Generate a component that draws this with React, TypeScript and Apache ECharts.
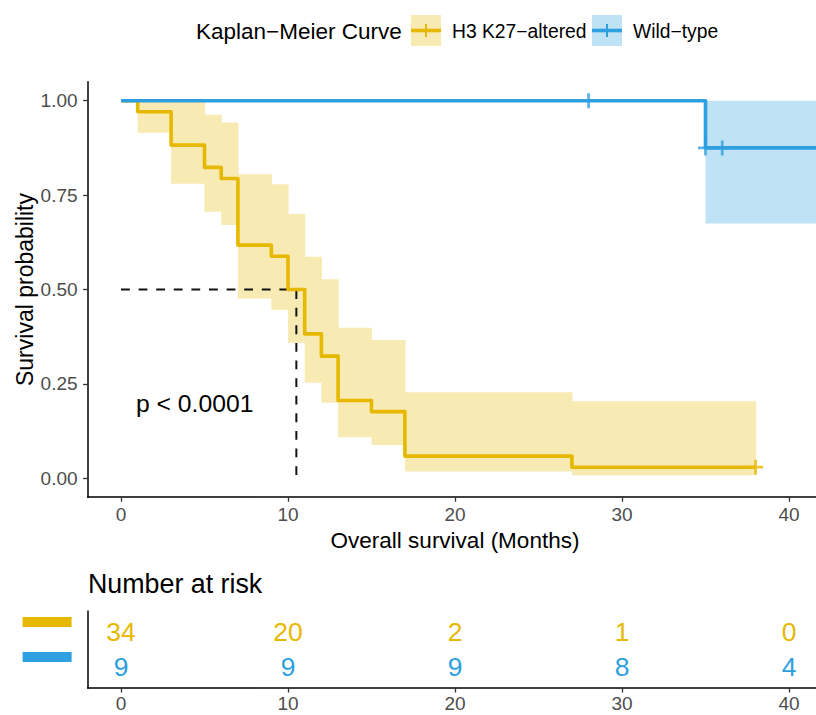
import React, { useEffect, useRef } from "react";
import * as echarts from "echarts";

const FONT = '"Liberation Sans", Arial, Helvetica, sans-serif';
const YELLOW = "#E7B800";
const BLUE = "#2E9FDF";
const YELLOW_FILL = "#F8EAB3";
const BLUE_FILL = "#C0E2F5";

// ---- H3 K27-altered (Kaplan-Meier estimate) ----
const mutTimes = [0, 1, 3, 5, 6, 7, 9, 10, 11, 12, 13, 15, 17, 27, 38];
const mutSurv = [1, 0.9706, 0.8824, 0.8235, 0.7941, 0.6176, 0.5882, 0.5, 0.3824, 0.3235, 0.2059, 0.1765, 0.0588, 0.0294, 0.0294];
// confidence band per interval [mutTimes[i], mutTimes[i+1])
const mutLower = [1, 0.915, 0.78, 0.706, 0.671, 0.476, 0.446, 0.359, 0.253, 0.2, 0.109, 0.088, 0.018, 0.008];
const mutUpper = [1, 1, 1, 0.963, 0.942, 0.805, 0.779, 0.7, 0.587, 0.527, 0.399, 0.366, 0.228, 0.204];
const mutCensorTimes = [38];
const mutCensorSurv = [0.0294];

// ---- Wild-type ----
const wtTimes = [0, 35, 42];
const wtSurv = [1, 0.875, 0.875];
const wtLower = [1, 0.675];
const wtUpper = [1, 1];
const wtCensorTimes = [28, 35, 36];
const wtCensorSurv = [1, 0.875, 0.875];

// ---- median & p value ----
const medianSurvival = 10.5;
const pValueText = "p < 0.0001";

// ---- number at risk ----
const riskTimes = [0, 10, 20, 30, 40];
const mutRisk = [34, 20, 2, 1, 0];
const wtRisk = [9, 9, 9, 8, 4];

const xTicks = [0, 10, 20, 30, 40];
const yTicks = [0, 0.25, 0.5, 0.75, 1];

const XMIN = -2;
const XMAX = 42;

const PLUS = "path://M0,4.1H4.1V0H5.9V4.1H10V5.9H5.9V10H4.1V5.9H0Z";

function bandData(times: number[], lo: number[], hi: number[]) {
  const out: number[][] = [];
  for (let i = 0; i < lo.length; i++) {
    if (hi[i] - lo[i] > 0.0001) out.push([times[i], times[i + 1], lo[i], hi[i]]);
  }
  return out;
}

function bandSeries(data: number[][], fill: string, z: number) {
  return {
    type: "custom",
    xAxisIndex: 0,
    yAxisIndex: 0,
    clip: true,
    z,
    silent: true,
    encode: { x: [0, 1], y: [2, 3] },
    data,
    renderItem: (_p: any, api: any) => {
      const a = api.coord([api.value(0), api.value(3)]);
      const b = api.coord([api.value(1), api.value(2)]);
      return {
        type: "rect",
        shape: { x: a[0], y: a[1], width: b[0] - a[0] + 0.6, height: b[1] - a[1] },
        style: { fill },
      };
    },
  };
}

function riskSeries(row: number, counts: number[], color: string) {
  return {
    type: "custom",
    xAxisIndex: 1,
    yAxisIndex: 1,
    z: 5,
    data: riskTimes.map((t, i) => [t, row, counts[i]]),
    renderItem: (_p: any, api: any) => {
      const p = api.coord([api.value(0), api.value(1)]);
      return {
        type: "text",
        x: p[0],
        y: p[1],
        style: {
          text: String(api.value(2)),
          fill: color,
          fontSize: 26.5,
          fontFamily: FONT,
          align: "center",
          verticalAlign: "middle",
        },
      };
    },
  };
}

const axisLineStyle = { color: "#000", width: 1.5 };
const tickStyle = { color: "#333", width: 1.3 };
const tickLabel = { color: "#4D4D4D", fontSize: 19, fontFamily: FONT };

export default function App() {
  const ref = useRef<HTMLDivElement>(null);
  useEffect(() => {
    const chart = echarts.init(ref.current!, null, { renderer: "svg" });
    const option: any = {
      animation: false,
      backgroundColor: "#fff",
      textStyle: { fontFamily: FONT },
      title: {
        text: "Number at risk",
        left: 88,
        top: 570,
        padding: 0,
        textStyle: { fontSize: 26.8, fontWeight: "normal", color: "#000", fontFamily: FONT },
      },
      grid: [
        { left: 87.6, right: -6.4, top: 81.8, bottom: 217.8, containLabel: false, outerBoundsMode: "none" },
        { left: 87.6, right: -6.4, top: 611, bottom: 27, containLabel: false, outerBoundsMode: "none" },
      ],
      xAxis: [
        {
          type: "value",
          gridIndex: 0,
          min: XMIN,
          max: XMAX,
          axisLine: { show: true, onZero: false, lineStyle: axisLineStyle },
          axisTick: { show: true, length: 4.5, customValues: xTicks, lineStyle: tickStyle },
          axisLabel: { ...tickLabel, customValues: xTicks, margin: 8 },
          splitLine: { show: false },
          name: "Overall survival (Months)",
          nameLocation: "middle",
          nameGap: 32,
          nameMoveOverlap: false,
          nameTextStyle: { fontSize: 22.5, color: "#000", fontFamily: FONT },
        },
        {
          type: "value",
          gridIndex: 1,
          min: XMIN,
          max: XMAX,
          axisLine: { show: true, onZero: false, lineStyle: axisLineStyle },
          axisTick: { show: true, length: 4.5, customValues: xTicks, lineStyle: tickStyle },
          axisLabel: { ...tickLabel, customValues: xTicks, margin: 6 },
          splitLine: { show: false },
        },
      ],
      yAxis: [
        {
          type: "value",
          gridIndex: 0,
          min: -0.05,
          max: 1.05,
          axisLine: { show: true, onZero: false, lineStyle: axisLineStyle },
          axisTick: { show: true, length: 4.5, customValues: yTicks, lineStyle: tickStyle },
          axisLabel: {
            ...tickLabel,
            customValues: yTicks,
            margin: 10,
            formatter: (v: number) => v.toFixed(2),
          },
          splitLine: { show: false },
          name: "Survival probability",
          nameLocation: "middle",
          nameRotate: 90,
          nameGap: 51,
          nameMoveOverlap: false,
          nameTextStyle: { fontSize: 23, color: "#000", fontFamily: FONT },
        },
        {
          type: "value",
          gridIndex: 1,
          min: 0.4,
          max: 2.6,
          axisLine: { show: true, onZero: false, lineStyle: axisLineStyle },
          axisTick: { show: false },
          axisLabel: { show: false },
          splitLine: { show: false },
        },
      ],
      series: [
        bandSeries(bandData(mutTimes, mutLower, mutUpper), YELLOW_FILL, 1),
        bandSeries(bandData(wtTimes, wtLower, wtUpper), BLUE_FILL, 1),
        {
          type: "line",
          name: "median",
          xAxisIndex: 0,
          yAxisIndex: 0,
          z: 3,
          symbol: "none",
          silent: true,
          data: [
            [0, 0.5],
            [medianSurvival, 0.5],
            [medianSurvival, 0],
          ],
          lineStyle: { color: "#111", width: 2, type: [8.8, 8.8] },
        },
        {
          type: "line",
          name: "H3 K27-altered",
          xAxisIndex: 0,
          yAxisIndex: 0,
          z: 4,
          step: "end",
          symbol: "none",
          data: mutTimes.map((t, i) => [t, mutSurv[i]]),
          lineStyle: { color: YELLOW, width: 3.6, join: "round" },
        },
        {
          type: "line",
          name: "Wild-type",
          xAxisIndex: 0,
          yAxisIndex: 0,
          z: 5,
          step: "end",
          symbol: "none",
          data: wtTimes.map((t, i) => [t, wtSurv[i]]),
          lineStyle: { color: BLUE, width: 3.6, join: "round" },
        },
        {
          type: "scatter",
          xAxisIndex: 0,
          yAxisIndex: 0,
          z: 6,
          symbol: PLUS,
          symbolSize: 15,
          itemStyle: { color: YELLOW },
          data: mutCensorTimes.map((t, i) => [t, mutCensorSurv[i]]),
        },
        {
          type: "scatter",
          xAxisIndex: 0,
          yAxisIndex: 0,
          z: 6,
          symbol: PLUS,
          symbolSize: 15,
          itemStyle: { color: BLUE },
          data: wtCensorTimes.map((t, i) => [t, wtCensorSurv[i]]),
        },
        riskSeries(2, mutRisk, YELLOW),
        riskSeries(1, wtRisk, BLUE),
      ],
    };
    chart.setOption(option);

    const legendKey = (x: number, fill: string, color: string) => [
      { type: "rect", shape: { x, y: 15, width: 30, height: 31 }, style: { fill } },
      { type: "line", shape: { x1: x, y1: 30.5, x2: x + 30, y2: 30.5 }, style: { stroke: color, lineWidth: 3.6 } },
      { type: "line", shape: { x1: x + 15, y1: 24, x2: x + 15, y2: 37 }, style: { stroke: color, lineWidth: 2 } },
    ];
    const legendText = (x: number, text: string, size: number) => ({
      type: "text",
      x,
      y: 31,
      style: { text, fontSize: size, fontFamily: FONT, fill: "#000", verticalAlign: "middle", align: "left" },
    });

    const p2 = chart.convertToPixel({ gridIndex: 1 } as any, [XMIN, 2]) as number[];
    const p1 = chart.convertToPixel({ gridIndex: 1 } as any, [XMIN, 1]) as number[];
    const strip = (p: number[], color: string) => ({
      type: "rect",
      shape: { x: p[0] - 65, y: p[1] - 15, width: 49, height: 10 },
      style: { fill: color },
    });

    chart.setOption({
      graphic: [
        legendText(196, "Kaplan\u2212Meier Curve", 22.5),
        ...legendKey(411, YELLOW_FILL, YELLOW),
        legendText(452, "H3 K27\u2212altered", 19.3),
        ...legendKey(592, BLUE_FILL, BLUE),
        legendText(633, "Wild\u2212type", 19.3),
        {
          type: "text",
          x: 136,
          y: 403,
          style: { text: pValueText, fontSize: 24.7, fontFamily: FONT, fill: "#000", verticalAlign: "middle" },
        },
        strip(p2, YELLOW),
        strip(p1, BLUE),
      ],
    });

    return () => chart.dispose();
  }, []);
  return (
    <div
      ref={ref}
      style={{ position: "fixed", left: 0, top: 0, width: 816, height: 715, background: "#fff" }}
    />
  );
}
